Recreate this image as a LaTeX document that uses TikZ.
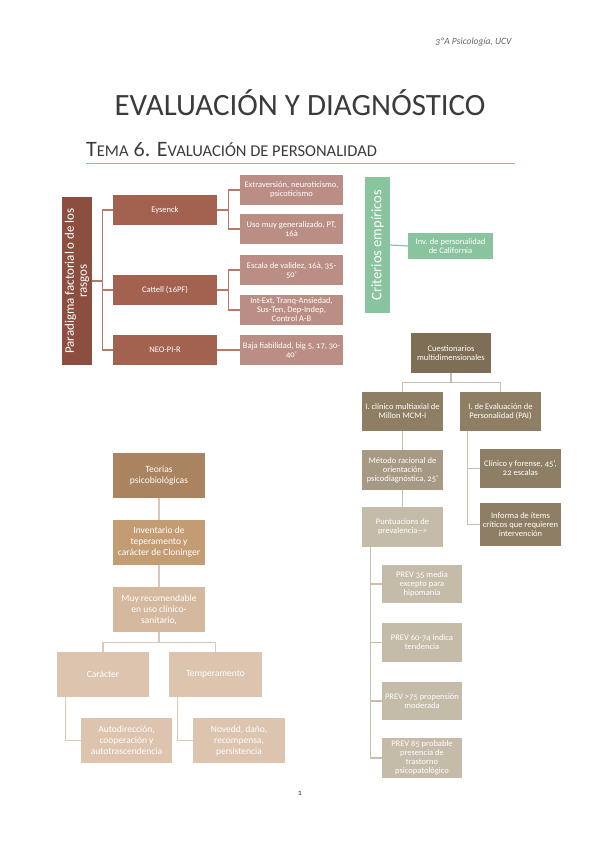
\documentclass[tikz,border=0pt]{standalone}
\usepackage{fontspec}
\setmainfont{Carlito}[Numbers=OldStyle]

\definecolor{rojoosc}{HTML}{8C4F3F}
\definecolor{rojomed}{HTML}{A3624F}
\definecolor{rojocla}{HTML}{BB8E85}
\definecolor{rojolin}{HTML}{B5796A}
\definecolor{verde}{HTML}{8AC49E}
\definecolor{taupeosc}{HTML}{7D6E55}
\definecolor{taupemed}{HTML}{8E7F64}
\definecolor{taupe}{HTML}{A69A84}
\definecolor{taupecla}{HTML}{C5BBA9}
\definecolor{taupelin}{HTML}{C8BEAD}
\definecolor{marron}{HTML}{AA8460}
\definecolor{marronmed}{HTML}{C49C74}
\definecolor{marroncla}{HTML}{D5B99F}
\definecolor{crema}{HTML}{DCC4AF}
\definecolor{cremalin}{HTML}{DCC8B8}
\definecolor{titulo}{HTML}{3B3B3B}
\definecolor{salmon}{HTML}{D99A8E}

\begin{document}
\begin{tikzpicture}[x=1pt,y=-1pt,
  caja/.style={rectangle, text=white, align=center, inner sep=1pt,
    font=\fontsize{8.5}{9}\selectfont},
  cajag/.style={caja, font=\fontsize{9.5}{11}\selectfont},
  linea/.style={line width=1.2pt}]

\useasboundingbox (0,0) rectangle (600,848);

% Cabecera
\node[anchor=east, font=\fontsize{9.5}{10}\itshape, text=titulo!80] (curso) at (515,42) {3ºA Psicología, UCV};
\node[font=\fontsize{31}{32}\selectfont, text=titulo] (titulo) at (300,103) {EVALUACIÓN Y DIAGNÓSTICO};
\node[anchor=base west, inner sep=0pt, text=titulo, font=\fontsize{22}{23}\selectfont] (tema) at (86,157)
  {T{\fontsize{16.5}{17}\selectfont EMA} 6. E{\fontsize{16.5}{17}\selectfont VALUACIÓN DE PERSONALIDAD}};
\draw[salmon, line width=0.9pt] (86,163) -- (515,163);

% Paradigma factorial
\node[caja, fill=rojoosc, rotate=90, minimum width=168, minimum height=30,
  font=\fontsize{13}{13}\selectfont] (paradigma) at (77,281) {Paradigma factorial o de los\\rasgos};
\node[caja, fill=rojomed, minimum width=104, minimum height=30] (eysenck) at (165,210) {Eysenck};
\node[caja, fill=rojomed, minimum width=104, minimum height=30] (cattell) at (165,290) {Cattell (16PF)};
\node[caja, fill=rojomed, minimum width=104, minimum height=30] (neo) at (165,350) {NEO-PI-R};
\node[caja, fill=rojocla, minimum width=103, minimum height=30] (ey1) at (291.5,190) {Extraversión, neuroticismo,\\psicoticismo};
\node[caja, fill=rojocla, minimum width=103, minimum height=30] (ey2) at (291.5,229) {Uso muy generalizado, PT,\\16à};
\node[caja, fill=rojocla, minimum width=103, minimum height=30] (ca1) at (291.5,270) {Escala de validez, 16à, 35-\\50'};
\node[caja, fill=rojocla, minimum width=103, minimum height=30] (ca2) at (291.5,310) {Int-Ext, Tranq-Ansiedad,\\Sus-Ten, Dep-Indep,\\Control A-B};
\node[caja, fill=rojocla, minimum width=103, minimum height=30] (ne1) at (291.5,350) {Baja fiabilidad, big 5, 17, 30-\\40'};

\draw[linea, rojolin] (paradigma.south) -- ++(10,0) |- (eysenck.west);
\draw[linea, rojolin] (paradigma.south) -- ++(10,0) |- (cattell.west);
\draw[linea, rojolin] (paradigma.south) -- ++(10,0) |- (neo.west);
\draw[linea, rojolin] (eysenck.east) -- ++(11,0) |- (ey1.west);
\draw[linea, rojolin] (eysenck.east) -- ++(11,0) |- (ey2.west);
\draw[linea, rojolin] (cattell.east) -- ++(11,0) |- (ca1.west);
\draw[linea, rojolin] (cattell.east) -- ++(11,0) |- (ca2.west);
\draw[linea, rojolin] (neo.east) -- (ne1.west);

% Criterios empiricos
\node[caja, fill=verde, rotate=90, minimum width=136, minimum height=25,
  font=\fontsize{14.5}{15}\selectfont] (criterios) at (377.5,245) {Criterios empíricos};
\node[caja, fill=verde, minimum width=85, minimum height=26] (california) at (450.5,246) {Inv. de personalidad\\de California};
\draw[linea, verde] (criterios.south) -- (california.west);

% Cuestionarios multidimensionales
\node[caja, fill=taupeosc, minimum width=80, minimum height=40] (cuest) at (451,353) {Cuestionarios\\multidimensionales};
\node[caja, fill=taupemed, minimum width=81, minimum height=39] (millon) at (402.5,411.5) {I. clínico multiaxial de\\Millon MCM-I};
\node[caja, fill=taupemed, minimum width=81, minimum height=39] (pai) at (500.5,411.5) {I. de Evaluación de\\Personalidad (PAI)};
\node[caja, fill=taupe, minimum width=81, minimum height=40] (metodo) at (402.5,470) {Método racional de\\orientación\\psicodiagnóstica, 25'};
\node[caja, fill=taupecla, minimum width=81, minimum height=40] (puntua) at (402.5,527) {Puntuacions de\\prevalencia{-}{-}>};
\node[caja, fill=taupemed, minimum width=81, minimum height=39] (clinico) at (520.5,468.5) {Clínico y forense, 45',\\22 escalas};
\node[caja, fill=taupemed, minimum width=81, minimum height=43] (informa) at (520.5,524.5) {Informa de ítems\\críticos que requieren\\intervención};
\node[caja, fill=taupecla, minimum width=80, minimum height=38] (prev1) at (422,584) {PREV 35 media\\excepto para\\hipomanía};
\node[caja, fill=taupecla, minimum width=80, minimum height=39] (prev2) at (422,642.5) {PREV 60-74 indica\\tendencia};
\node[caja, fill=taupecla, minimum width=80, minimum height=38] (prev3) at (422,701) {PREV >75 propensión\\moderada};
\node[caja, fill=taupecla, minimum width=80, minimum height=40] (prev4) at (422,758) {PREV 85 probable\\presencia de\\trastorno\\psicopatológico};

\draw[linea, taupelin] (cuest.south) -- ++(0,9) -| (millon.north);
\draw[linea, taupelin] (cuest.south) -- ++(0,9) -| (pai.north);
\draw[linea, taupelin] (millon.south) -- (metodo.north);
\draw[linea, taupelin] (metodo.south) -- (puntua.north);
\draw[linea, taupelin] (pai.south west) ++(8,0) |- (clinico.west);
\draw[linea, taupelin] (pai.south west) ++(8,0) |- (informa.west);
\foreach \p in {prev1,prev2,prev3,prev4}
  \draw[linea, taupelin] (puntua.south west) ++(9,0) |- (\p.west);

% Teorias psicobiologicas
\node[cajag, fill=marron, minimum width=92, minimum height=45] (teorias) at (159,475.5) {Teorias\\psicobiológicas};
\node[cajag, fill=marronmed, minimum width=92, minimum height=45] (inventario) at (159,542.5) {Inventario de\\teperamento y\\carácter de Cloninger};
\node[cajag, fill=marroncla, minimum width=92, minimum height=45] (muy) at (159,609.5) {Muy recomendable\\en uso clínico-\\sanitario,};
\node[cajag, fill=crema, minimum width=92, minimum height=45] (caracter) at (103,674.5) {Carácter};
\node[cajag, fill=crema, minimum width=93, minimum height=45] (temper) at (215.5,674.5) {Temperamento};
\node[cajag, fill=crema, minimum width=91, minimum height=45] (auto) at (126.5,740.5) {Autodirección,\\cooperación y\\autotrascendencia};
\node[cajag, fill=crema, minimum width=92, minimum height=45] (novedad) at (239,740.5) {Novedd, daño,\\recompensa,\\persistencia};

\draw[linea, cremalin] (teorias.south) -- (inventario.north);
\draw[linea, cremalin] (inventario.south) -- (muy.north);
\draw[linea, cremalin] (muy.south) -- ++(0,10) -| (caracter.north);
\draw[linea, cremalin] (muy.south) -- ++(0,10) -| (temper.north);
\draw[linea, cremalin] (caracter.south west) ++(9,0) |- (auto.west);
\draw[linea, cremalin] (temper.south west) ++(9,0) |- (novedad.west);

% Pagina
\node[font=\fontsize{8}{9}\selectfont, text=titulo] (pagina) at (300,793) {1};

\end{tikzpicture}
\end{document}
